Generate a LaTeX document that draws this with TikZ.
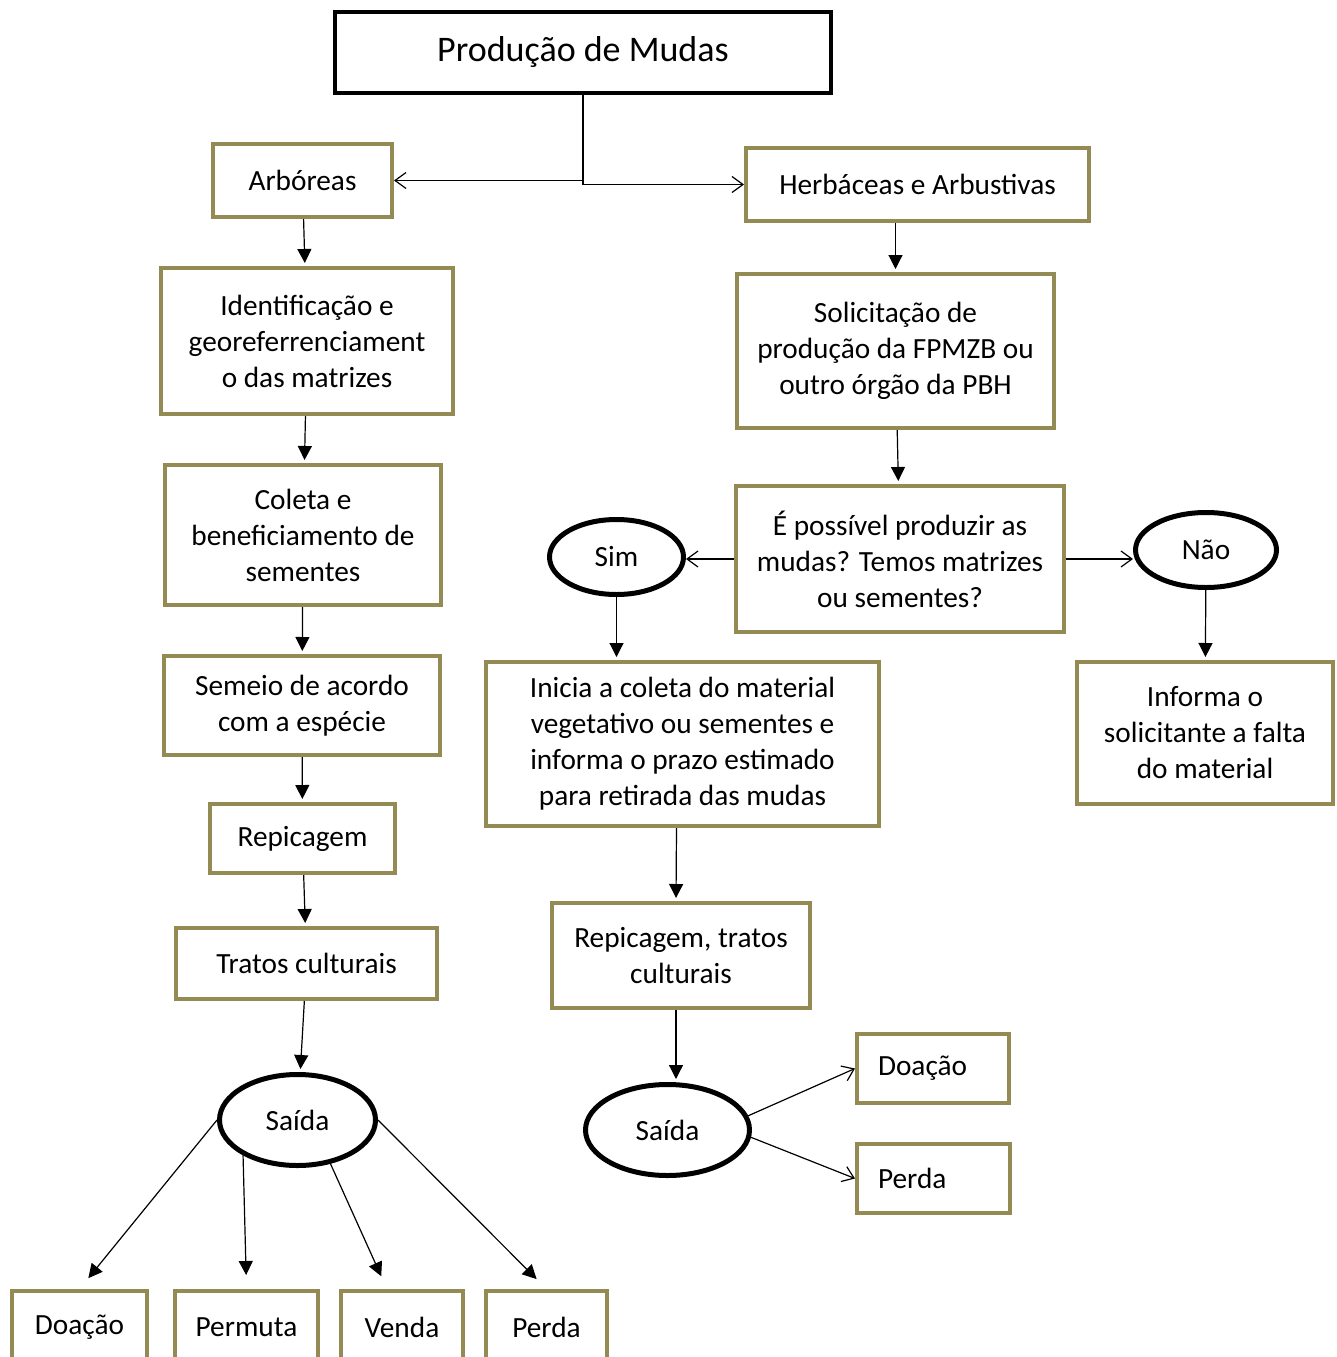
\documentclass[tikz,border=0pt]{standalone}
\usepackage{fontspec}
\setmainfont{Carlito}
\usetikzlibrary{arrows.meta,shapes.geometric,positioning}
\definecolor{olivebox}{HTML}{948A54}

\begin{document}
\begin{tikzpicture}[x=1pt,y=-1pt,font=\fontsize{29.3}{36}\selectfont]
            \tikzstyle{box}=[draw=olivebox, line width=4pt, inner sep=0pt, align=center]
            \tikzstyle{oval}=[draw, ellipse, line width=5pt, inner sep=0pt]
            \tikzstyle{flow}=[line width=1.2pt, -{Triangle[length=14pt,width=14pt]}, shorten >=3pt]
            \tikzstyle{openarr}=[line width=1.2pt, -{Straight Barb[length=11pt,width=16pt,line width=1.2pt]}]

            \useasboundingbox (0,0) rectangle (1337,1357);
            \clip (0,0) rectangle (1337,1357);

            \node[draw, line width=4.5pt, minimum width=496pt, minimum height=81pt,
                  font=\fontsize{36}{43}\selectfont] (title) at (583,52.5) {Produção de Mudas};

            % left branch
            \node[box, minimum width=179pt, minimum height=73pt] (arb)    at (302.5,180.5) {Arbóreas};
            \node[box, minimum width=292pt, minimum height=146pt] (ident) at (307,341)
                {Identificação e\\georeferrenciament\\o das matrizes};
            \node[box, minimum width=276pt, minimum height=140pt] (coleta) at (303,535)
                {Coleta e\\beneficiamento de\\sementes};
            \node[box, minimum width=276pt, minimum height=99pt] (semeio) at (302,705.5)
                {Semeio de acordo\\com a espécie};
            \node[box, minimum width=185pt, minimum height=69pt] (repic)  at (302.5,838.5) {Repicagem};
            \node[box, minimum width=261pt, minimum height=71pt] (tratos) at (306.5,963.5) {Tratos culturais};
            \node[oval, minimum width=156pt, minimum height=91pt] (saidaL) at (297.5,1120) {Saída};

            \node[box, minimum width=135pt, minimum height=72pt] (doacaoL)  at (79.5,1327)  {Doação};
            \node[box, minimum width=143pt, minimum height=72pt] (permuta)  at (246.5,1327) {Permuta};
            \node[box, minimum width=122pt, minimum height=72pt] (venda)    at (402,1327)   {Venda};
            \node[box, minimum width=121pt, minimum height=72pt] (perdaL)   at (546.5,1327) {Perda};

            % right branch
            \node[box, minimum width=343pt, minimum height=73pt] (herb)  at (917.5,184.5) {Herbáceas e Arbustivas};
            \node[box, minimum width=317pt, minimum height=154pt] (solic) at (895.5,351)
                {Solicitação de\\produção da FPMZB ou\\outro órgão da PBH};
            \node[box, minimum width=328pt, minimum height=146pt] (poss)  at (900,559)
                {É possível produzir as\\mudas? Temos matrizes\\ou sementes?};
            \node[oval, minimum width=134pt, minimum height=75pt] (sim) at (616.5,557) {Sim};
            \node[oval, minimum width=141pt, minimum height=75pt] (nao) at (1206,550) {Não};
            \node[box, minimum width=393pt, minimum height=164pt] (inicia) at (682.5,744)
                {Inicia a coleta do material\\vegetativo ou sementes e\\informa o prazo estimado\\para retirada das mudas};
            \node[box, minimum width=256pt, minimum height=142pt] (informa) at (1205,733)
                {Informa o\\solicitante a falta\\do material};
            \node[box, minimum width=258pt, minimum height=105pt] (reptratos) at (681,955.5)
                {Repicagem, tratos\\culturais};
            \node[oval, minimum width=164pt, minimum height=91pt] (saidaR) at (667.5,1130) {Saída};
            \node[box, minimum width=152pt, minimum height=69pt, inner xsep=21pt, text width=110pt,
                  align=left] (doacaoR) at (933,1068.5) {Doação};
            \node[box, minimum width=153pt, minimum height=69pt, inner xsep=21pt, text width=111pt,
                  align=left] (perdaR) at (933.5,1178.5) {Perda};

            \draw[openarr] (title.south) |- (arb.east);
            \draw[openarr] (title.south) |- (herb.west);

            \path[flow]
                    (arb) edge (ident)
                    (ident) edge (coleta)
                    (coleta) edge (semeio)
                    (semeio) edge (repic)
                    (repic) edge (tratos)
                    (tratos) edge (saidaL)
                ;

            \path[flow, shorten >=14pt]
                    (saidaL.west) edge (doacaoL.north)
                    (saidaL.213) edge (permuta.north)
                    (saidaL.307) edge ([xshift=-15pt]venda.north)
                    (saidaL.east) edge (perdaL.north)
                ;

            \draw[flow] (solic.north |- herb.south) -- (solic.north);
            \draw[flow] (solic) -- (poss);
            \draw[openarr] (poss.west) -- (poss.west -| sim.east);
            \draw[openarr] (poss.east) -- (poss.east -| nao.west);
            \draw[flow] (sim.south) -- (sim.south |- inicia.north);
            \draw[flow] (nao) -- (informa);
            \draw[flow] ([xshift=-6pt]inicia.south) -- ([xshift=-5pt]reptratos.north);
            \draw[flow] ([xshift=-5pt]reptratos.south) -- ([xshift=-5pt]reptratos.south |- saidaR.north);

            \path[openarr]
                    (saidaR.10) edge (doacaoR.west)
                    (saidaR.355) edge (perdaR.west)
                ;
        \end{tikzpicture}
\end{document}
